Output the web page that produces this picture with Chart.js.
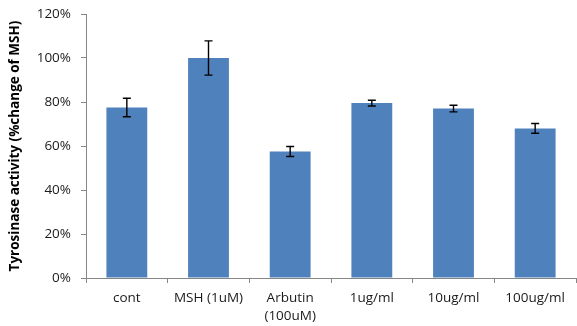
<!DOCTYPE html>
<html>
<head>
<meta charset="utf-8">
<script src="https://cdn.jsdelivr.net/npm/chart.js@4/dist/chart.umd.min.js"></script>
<style>
  html, body { margin: 0; padding: 0; background: #fff; }
  #wrap { width: 577px; height: 326px; position: relative; }
</style>
</head>
<body>
<div id="wrap"><canvas id="c" width="577" height="326"></canvas></div>
<script>
// Treatment groups
const categories = ['cont', 'MSH (1uM)', ['Arbutin', '(100uM)'], '1ug/ml', '10ug/ml', '100ug/ml'];
// Mean tyrosinase activity, % of MSH
const activity = [77.5, 100, 57.5, 79.5, 77, 68];
// Standard error of each mean
const activityErr = [4.2, 7.8, 2.3, 1.3, 1.5, 2.2];
// Y-axis tick values
const yTicks = [0, 20, 40, 60, 80, 100, 120];

const FONT = "'Open Sans', 'Liberation Sans', sans-serif";

// Draws the error bars from activity ± activityErr on the y scale
const errorBars = {
  id: 'errorBars',
  afterDatasetsDraw(chart) {
    const { ctx, scales: { y } } = chart;
    const meta = chart.getDatasetMeta(0);
    ctx.save();
    ctx.strokeStyle = '#000';
    ctx.lineWidth = 1.4;
    meta.data.forEach((bar, i) => {
      const cx = bar.x;
      const top = y.getPixelForValue(activity[i] + activityErr[i]);
      const bot = y.getPixelForValue(activity[i] - activityErr[i]);
      const cap = 4;
      ctx.beginPath();
      ctx.moveTo(cx, top); ctx.lineTo(cx, bot);
      ctx.moveTo(cx - cap, top); ctx.lineTo(cx + cap, top);
      ctx.moveTo(cx - cap, bot); ctx.lineTo(cx + cap, bot);
      ctx.stroke();
    });
    ctx.restore();
  }
};

new Chart(document.getElementById('c'), {
  type: 'bar',
  data: {
    labels: categories,
    datasets: [{
      data: activity,
      backgroundColor: '#4F81BD',
      borderWidth: 0,
      categoryPercentage: 1.0,
      barPercentage: 0.5
    }]
  },
  options: {
    responsive: false,
    animation: false,
    devicePixelRatio: 1,
    layout: { padding: { top: 14, right: 1, left: 7, bottom: 0 } },
    plugins: { legend: { display: false }, tooltip: { enabled: false } },
    scales: {
      x: {
        offset: true,
        grid: {
          display: true, offset: true, drawOnChartArea: false,
          drawTicks: true, tickLength: 5, color: '#868686'
        },
        border: { display: true, color: '#868686', width: 1 },
        ticks: {
          color: '#1a1a1a', font: { family: FONT, size: 13.5, lineHeight: 1.35 },
          maxRotation: 0, autoSkip: false, padding: 6
        },
        afterFit(s) { s.height = 48; }
      },
      y: {
        min: 0, max: 120,
        afterBuildTicks(s) { s.ticks = yTicks.map(v => ({ value: v })); },
        grid: {
          display: true, drawOnChartArea: false,
          drawTicks: true, tickLength: 5, color: '#868686'
        },
        border: { display: true, color: '#868686', width: 1 },
        ticks: {
          color: '#1a1a1a', font: { family: FONT, size: 13.5 },
          padding: 10,
          callback: v => v + '%'
        },
        title: {
          display: true,
          text: 'Tyrosinase activity (%change of MSH)',
          color: '#000',
          font: { family: FONT, size: 13.5, weight: 'bold' },
          padding: { top: 0, bottom: 4 }
        },
        afterFit(s) { s.width = 79; s.paddingTop = 0; s.paddingBottom = 0; }
      }
    }
  },
  plugins: [errorBars]
});
</script>
</body>
</html>
